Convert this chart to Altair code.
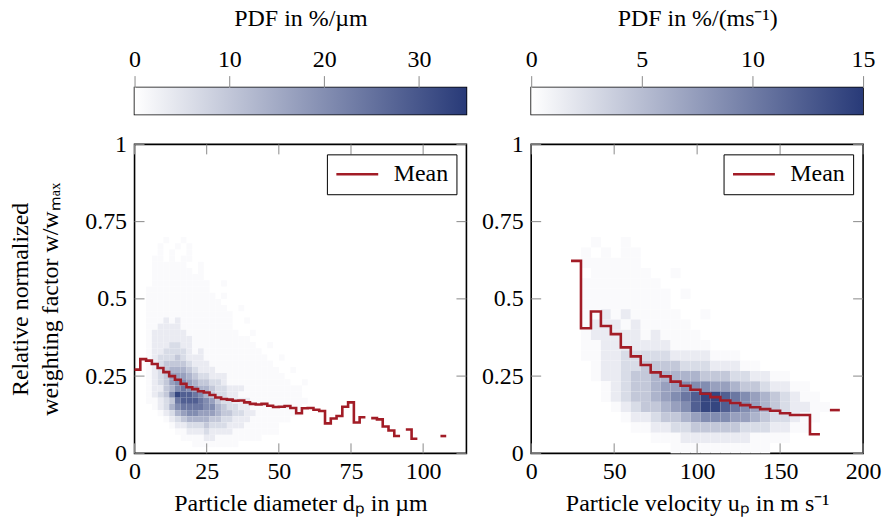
import altair as alt
import pandas as pd

FONT = "Liberation Serif"
FS = 24
RED = "#a21c26"
NAVY = "#283a78"
TICK_GREY = "#8a8a8a"
PW, PH, CBH = 333, 310, 27
TL = 10

# ---------------- data ----------------
# intensity codes used in the heat-map rows ('.' = faint) and their share of the colour range
LEVEL_CODES = list(".123456789")
LEVEL_SHARES = [0.025, 0.10, 0.18, 0.28, 0.38, 0.48, 0.58, 0.69, 0.81, 0.94]

W_TICKS = [0, 0.25, 0.5, 0.75, 1]

# ---- left panel: particle diameter ----
D_MAX = 115
D_TICKS = [0, 25, 50, 75, 100]
D_PDF_MAX = 35
D_PDF_TICKS = [0, 10, 20, 30]
D_BIN = 2.0            # width of a diameter bin (µm)
D_MEAN = [0.271, 0.305, 0.300, 0.289, 0.276, 0.263, 0.250, 0.238, 0.225, 0.214,
          0.208, 0.201, 0.197, 0.189, 0.181, 0.176, 0.174, 0.170, 0.171, 0.165,
          0.160, 0.158, 0.160, 0.154, 0.150, 0.151, 0.153, 0.147, 0.130, 0.146,
          0.147, 0.141, 0.137, 0.097, 0.113, 0.121, 0.151, 0.165, 0.100, 0.117,
          None, 0.114, 0.110, 0.087, 0.074, 0.056, None, 0.077, 0.047, None,
          None, None, None, 0.056]
D_ROW_H = 0.02         # height of a heat-map row
D_MAP_ROWS = [         # top row first, bottom row = 0 .. 0.02
    "     .  .",
    "    .  . .",
    "    . .  .",
    "   .. . ..",
    "   ......  .",
    "   ....... .",
    "   .........",
    "   ..........  .",
    "  ...........",
    "  ............ .",
    "  .............",
    "  ..............  .",
    "  ...............",
    "  ...1.1.........  .",
    "  ..1111.........",
    "  .111111.........  .",
    "  .1111111..........",
    "  .1112211...........  .",
    "  .1122221.1..........",
    "  .122232111...........  .",
    "  .1233332111...........",
    "  .12344432111...........  .",
    "  .1235554322111..........",
    "  .1235665433221...........  .",
    "  .1134676544322111..........",
    "  .123698876432211...........",
    "  ..1237888765322111..........",
    "   .1246777766432211.........",
    "    .1245665554332211........",
    "     .12344443322111.......",
    "      .112223222111......",
    "       ..11121111........",
    "        ....11........",
    "          ........",
    "",
]

# ---- right panel: particle velocity ----
U_MAX = 200
U_TICKS = [0, 50, 100, 150, 200]
U_PDF_MAX = 15
U_PDF_TICKS = [0, 5, 10, 15]
U_BIN = 6.0            # width of a velocity bin (m/s)
U_X0 = 24.0            # first bin starts here
U_MEAN = [0.623, 0.405, 0.459, 0.412, 0.386, 0.343, 0.314, 0.286, 0.262, 0.249,
          0.232, 0.219, 0.206, 0.193, 0.182, 0.171, 0.163, 0.156, 0.149, 0.143,
          0.138, 0.130, 0.124, 0.124, 0.062, None, 0.140]
U_ROW_H = 1 / 30
U_MAP_ROWS = [         # top row first, bottom row = 0 .. 1/30
    "  .  .",
    " . . ..",
    " ......",
    "  ......  .",
    " ........",
    " ......... .",
    " .........",
    " ..1.1.....  .",
    " .111.1.....",
    " .11111.1....",
    " ..1111111....",
    " ..11222221111...",
    "  .11223333222111..",
    "  .11233444443332211..",
    "   .123345566655433211..",
    "   .1233456789987654321..",
    "    .1233456899876543211..",
    "     .11233456665543221..",
    "      ..11223333322211..",
    "        ...1111111....",
    "          ..........",
]


# ---------------- frames ----------------
def map_frame(rows, x0, xw, yh, vmax):
    recs = []
    n = len(rows)
    for i, row in enumerate(rows):
        r = n - 1 - i
        for c, ch in enumerate(row):
            if ch in LEVEL_CODES:
                recs.append(dict(x=x0 + c * xw, x2=x0 + (c + 1) * xw,
                                 y=r * yh, y2=(r + 1) * yh,
                                 pdf=LEVEL_SHARES[LEVEL_CODES.index(ch)] * vmax))
    return pd.DataFrame(recs)


def mean_frame(vals, x0, xw):
    recs, seg, prev = [], 0, None
    for i, v in enumerate(vals):
        if v is None:
            if prev is not None:
                recs.append(dict(x=x0 + i * xw, y=prev, seg=seg))
                seg += 1
            prev = None
            continue
        recs.append(dict(x=x0 + i * xw, y=v, seg=seg))
        prev = v
    if prev is not None:
        recs.append(dict(x=x0 + len(vals) * xw, y=prev, seg=seg))
    df = pd.DataFrame(recs)
    df["series"] = "Mean"
    return df


def ax(**kw):
    base = dict(labelFont=FONT, labelFontSize=FS, labelColor="black",
                titleFont=FONT, titleFontSize=FS, titleFontWeight="normal",
                titleColor="black", domain=False, grid=False, labelFlush=False)
    base.update(kw)
    return alt.Axis(**base)


def panel(map_df, mean_df, xmax, xticks, xtitle, vmax, ytitle):
    xs = alt.Scale(domain=[0, xmax], nice=False, zero=False)
    ys = alt.Scale(domain=[0, 1], nice=False, zero=False)
    yaxis = ax(values=W_TICKS, title=ytitle, ticks=False, tickSize=0, labelPadding=8,
               titlePadding=22, titleLineHeight=30, labelExpr="'' + datum.value")
    xaxis = ax(values=xticks, title=xtitle, ticks=False, tickSize=0,
               labelPadding=6, titlePadding=8)
    heat = alt.Chart(map_df).mark_rect().encode(
        x=alt.X("x:Q", scale=xs, axis=xaxis),
        x2="x2:Q",
        y=alt.Y("y:Q", scale=ys, axis=yaxis),
        y2="y2:Q",
        fill=alt.Fill("pdf:Q", scale=alt.Scale(domain=[0, vmax], range=["#ffffff", NAVY],
                                               interpolate="rgb"), legend=None),
    )
    xt = pd.DataFrame({"t": xticks})
    yt = pd.DataFrame({"t": W_TICKS})
    rule = dict(color=TICK_GREY, strokeWidth=1)
    tb = alt.Chart(xt).mark_rule(**rule).encode(
        x=alt.X("t:Q", scale=xs, axis=xaxis), y=alt.value(PH), y2=alt.value(PH - TL))
    tt = alt.Chart(xt).mark_rule(**rule).encode(
        x=alt.X("t:Q", scale=xs, axis=xaxis), y=alt.value(0), y2=alt.value(TL))
    tl = alt.Chart(yt).mark_rule(**rule).encode(
        y=alt.Y("t:Q", scale=ys, axis=yaxis), x=alt.value(0), x2=alt.value(TL))
    tr = alt.Chart(yt).mark_rule(**rule).encode(
        y=alt.Y("t:Q", scale=ys, axis=yaxis), x=alt.value(PW - TL), x2=alt.value(PW))
    line = alt.Chart(mean_df).mark_line(
        interpolate="step-after", strokeWidth=2.6, strokeJoin="miter", strokeCap="butt"
    ).encode(
        x=alt.X("x:Q", scale=xs, axis=xaxis),
        y=alt.Y("y:Q", scale=ys, axis=yaxis),
        detail="seg:N",
        stroke=alt.Stroke("series:N", scale=alt.Scale(domain=["Mean"], range=[RED]),
                          legend=alt.Legend(title=None, orient="top-right", offset=10,
                                            strokeColor="black", fillColor="white",
                                            padding=8, cornerRadius=0,
                                            symbolType="stroke", symbolSize=1764,
                                            symbolStrokeWidth=2.6,
                                            labelFont=FONT, labelFontSize=FS,
                                            labelColor="black", labelOffset=14,
                                            clipHeight=24)),
    )
    return alt.layer(heat, tb, tt, tl, tr, line).properties(width=PW, height=PH)


def colorbar(vmax, ticks, title):
    df = pd.DataFrame({"lo": [0.0], "hi": [float(vmax)]})
    grad = alt.LinearGradient(
        gradient="linear",
        stops=[alt.GradientStop(color="#ffffff", offset=0),
               alt.GradientStop(color=NAVY, offset=1)],
        x1=0, x2=1, y1=0, y2=0)
    return alt.Chart(df).mark_rect(fill=grad).encode(
        x=alt.X("lo:Q", scale=alt.Scale(domain=[0, vmax], nice=False, zero=False),
                axis=ax(orient="top", values=ticks, title=title, tickSize=12,
                        tickColor=TICK_GREY, tickWidth=1, labelPadding=4,
                        titlePadding=17)),
        x2="hi:Q",
    ).properties(width=PW, height=CBH)


left = panel(map_frame(D_MAP_ROWS, 0.0, D_BIN, D_ROW_H, D_PDF_MAX),
             mean_frame(D_MEAN, 0.0, D_BIN),
             D_MAX, D_TICKS, "Particle diameter dₚ in µm", D_PDF_MAX,
             ["Relative normalized", "weighting factor w/wₘₐₓ"])
right = panel(map_frame(U_MAP_ROWS, U_X0, U_BIN, U_ROW_H, U_PDF_MAX),
              mean_frame(U_MEAN, U_X0, U_BIN),
              U_MAX, U_TICKS, "Particle velocity uₚ in m s⁻¹", U_PDF_MAX, "")

cb_left = colorbar(D_PDF_MAX, D_PDF_TICKS, "PDF in %/µm")
cb_right = colorbar(U_PDF_MAX, U_PDF_TICKS, "PDF in %/(ms⁻¹)")

chart = alt.concat(
    cb_left, cb_right, left, right,
    columns=2,
    spacing=alt.RowColnumber(row=30, column=65),
    bounds="flush",
    align="each",
).resolve_scale(
    x="independent", y="independent", fill="independent", stroke="independent"
).resolve_legend(
    stroke="independent"
).configure(
    font=FONT
).configure_view(
    stroke="black", strokeWidth=1.6
).properties(
    padding={"left": 8, "top": 5, "right": 4, "bottom": 4},
    background="white",
)

chart.save("out.html", embed_options={"renderer": "svg", "actions": False})
